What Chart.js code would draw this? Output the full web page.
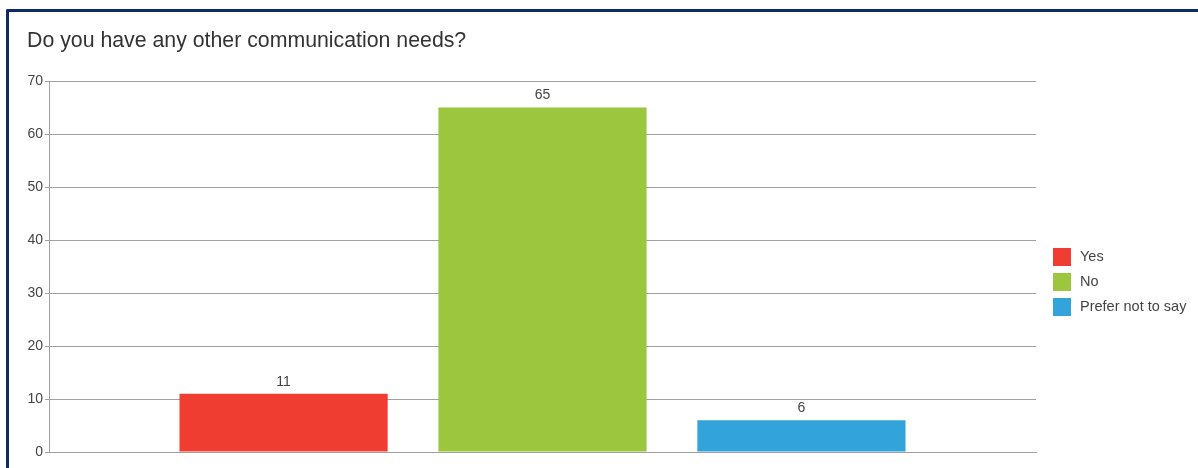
<!DOCTYPE html>
<html>
<head>
<meta charset="utf-8">
<script src="https://cdn.jsdelivr.net/npm/chart.js@4/dist/chart.umd.min.js"></script>
<style>
  html, body { margin: 0; padding: 0; background: #fff; }
  #wrap { position: relative; width: 1198px; height: 468px; overflow: hidden;
          font-family: "Liberation Sans", Arial, sans-serif; }
  #frame { position: absolute; left: 6px; top: 9px; width: 1300px; height: 600px;
           border-top: 3px solid #0d2b6b; border-left: 3px solid #0d2b6b;
           border-top-left-radius: 2px; box-sizing: border-box; }
  #title { position: absolute; left: 27px; top: 28px; font-size: 21.3px; color: #333; white-space: nowrap; }
  #chart { position: absolute; left: 0; top: 0; }
  #legend { position: absolute; left: 1053px; top: 248px; }
  .legend-item { position: relative; height: 25px; }
  .legend-dot { position: absolute; left: 0; top: 0; width: 18px; height: 18px; }
  .legend-item span.txt { position: absolute; left: 27px; top: 0; font-size: 14.5px; color: #444;
                          line-height: 17px; white-space: nowrap; }
</style>
</head>
<body>
<div id="wrap">
  <div id="frame"></div>
  <canvas id="chart" width="1198" height="468"></canvas>
  <div id="title">Do you have any other communication needs?</div>
  <div id="legend"></div>
</div>
<script>
// answers and counts
const answers = ['Yes', 'No', 'Prefer not to say'];
const counts  = [11, 65, 6];
const colors  = ['#ef3d32', '#9bc63e', '#33a3dc'];
const yTicks  = [0, 10, 20, 30, 40, 50, 60, 70];

// value labels above each bar
const barValues = {
  id: 'barValues',
  afterDatasetsDraw(chart) {
    const ctx = chart.ctx;
    ctx.save();
    ctx.font = '14px "Liberation Sans", Arial, sans-serif';
    ctx.fillStyle = '#444';
    ctx.textAlign = 'center';
    ctx.textBaseline = 'bottom';
    chart.data.datasets.forEach((ds, i) => {
      const bar = chart.getDatasetMeta(i).data[0];
      if (bar) ctx.fillText(String(ds.data[0]), bar.x, bar.y - 5);
    });
    ctx.restore();
  }
};

const chart = new Chart(document.getElementById('chart'), {
  type: 'bar',
  data: {
    labels: [''],
    datasets: answers.map((a, i) => ({
      label: a,
      data: [counts[i]],
      backgroundColor: colors[i],
      borderWidth: 0,
      categoryPercentage: 0.787,
      barPercentage: 0.804
    }))
  },
  options: {
    responsive: false,
    animation: false,
    devicePixelRatio: 1,
    layout: { padding: { left: 0, top: 81, right: 162, bottom: 16 } },
    plugins: {
      legend: { display: false },
      title: { display: false },
      tooltip: { enabled: false }
    },
    scales: {
      x: {
        grid: { display: false },
        border: { display: true, color: '#a0a0a0', width: 1 },
        ticks: { display: false },
        afterFit: s => { s.height = 0; }
      },
      y: {
        min: yTicks[0],
        max: yTicks[yTicks.length - 1],
        afterBuildTicks: s => { s.ticks = yTicks.map(v => ({ value: v })); },
        grid: { color: '#a0a0a0', lineWidth: 1, tickLength: 4 },
        border: { display: true, color: '#a0a0a0', width: 1 },
        ticks: {
          padding: 2,
          color: '#444',
          font: { family: '"Liberation Sans", Arial, sans-serif', size: 14 }
        },
        afterFit: s => { s.width = 49; }
      }
    }
  },
  plugins: [barValues]
});

// legend
document.getElementById('legend').innerHTML = answers.map((a, i) =>
  `<div class="legend-item">
     <span class="legend-dot" style="background:${colors[i]}"></span>
     <span class="txt">${a}</span>
   </div>`
).join('');
</script>
</body>
</html>
